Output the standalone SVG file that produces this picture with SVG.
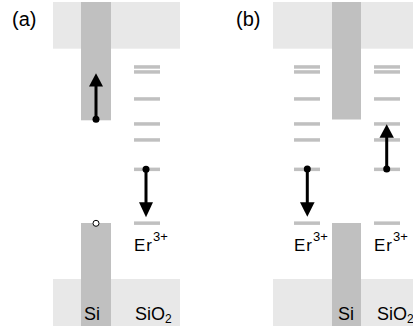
<svg xmlns="http://www.w3.org/2000/svg" width="413" height="326" viewBox="0 0 413 326">
<defs>
<style>
.ox{fill:#e8e8e8}
.si{fill:#c0c0c0}
.lv{fill:#c0c0c0}
.t{font-family:"Liberation Sans",Arial,sans-serif;fill:#000}
.er{font-size:17px;letter-spacing:1px}
.ar{stroke:#000;stroke-width:3;fill:none}
.hd{fill:#000}
</style>
<symbol id="levels" overflow="visible">
<rect class="lv" x="0" y="65.2" width="26" height="3.5"/>
<rect class="lv" x="0" y="70.2" width="26" height="3.5"/>
<rect class="lv" x="0" y="97.2" width="26" height="3.5"/>
<rect class="lv" x="0" y="122.2" width="26" height="3.5"/>
<rect class="lv" x="0" y="138.2" width="26" height="3.5"/>
<rect class="lv" x="0" y="167.6" width="26" height="3.5"/>
<rect class="lv" x="0" y="221.4" width="26" height="3.5"/>
</symbol>
</defs>
<rect width="413" height="326" fill="#fff"/>

<g id="panel-a">
<text class="t" x="12" y="26" font-size="20">(a)</text>
<rect class="ox" x="53" y="2" width="127" height="46.7"/>
<rect class="ox" x="53" y="279" width="127" height="47"/>
<rect class="si" x="81" y="2" width="30" height="118.3"/>
<rect class="si" x="81" y="223" width="30" height="103"/>
<use href="#levels" x="134" y="0"/>
<circle cx="96" cy="223.3" r="3" fill="#fff" stroke="#000" stroke-width="1"/>
<text class="t er" x="134" y="251">Er<tspan font-size="13" letter-spacing="0" dy="-10.5">3+</tspan></text>
<text class="t" x="84" y="320" font-size="18">Si</text>
<text class="t" x="135" y="320" font-size="18">SiO<tspan font-size="12" dy="3">2</tspan></text>
</g>

<g id="panel-b">
<text class="t" x="236" y="26" font-size="20">(b)</text>
<rect class="ox" x="273" y="2" width="140" height="46.7"/>
<rect class="ox" x="273" y="279" width="140" height="47"/>
<rect class="si" x="332" y="2" width="29" height="117.5"/>
<rect class="si" x="332" y="223" width="29" height="103"/>
<use href="#levels" x="294" y="0"/>
<use href="#levels" x="374" y="0"/>
<text class="t er" x="294" y="251">Er<tspan font-size="13" letter-spacing="0" dy="-10.5">3+</tspan></text>
<text class="t er" x="374" y="251">Er<tspan font-size="13" letter-spacing="0" dy="-10.5">3+</tspan></text>
<text class="t" x="338" y="320" font-size="18">Si</text>
<text class="t" x="377" y="320" font-size="18">SiO<tspan font-size="12" dy="3">2</tspan></text>
</g>

<g id="connectors">
<line class="ar" x1="96" y1="119.3" x2="96" y2="86"/>
<polygon class="hd" points="96,73.3 89,86.5 103,86.5"/>
<circle cx="96" cy="119.3" r="3.5" fill="#000"/>

<line class="ar" x1="146" y1="169.3" x2="146" y2="203"/>
<polygon class="hd" points="146,217.3 139,202.3 153,202.3"/>
<circle cx="146" cy="169.3" r="3.5" fill="#000"/>

<line class="ar" x1="307.3" y1="169" x2="307.3" y2="203"/>
<polygon class="hd" points="307.3,216.7 300,202.3 314.6,202.3"/>
<circle cx="307.3" cy="169" r="3.5" fill="#000"/>

<line class="ar" x1="386.7" y1="169" x2="386.7" y2="137"/>
<polygon class="hd" points="386.7,124.3 379.5,137.7 393.9,137.7"/>
<circle cx="386.7" cy="169" r="3.5" fill="#000"/>
</g>
</svg>
